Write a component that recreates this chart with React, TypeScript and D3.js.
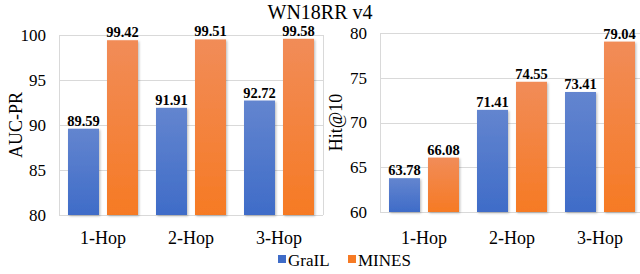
import { useEffect, useRef } from 'react';
import * as d3 from 'd3';

const TITLE = 'WN18RR v4';
const CATEGORIES = ['1-Hop', '2-Hop', '3-Hop'];
const SERIES = ['GraIL', 'MINES'];
const AUC_GRAIL = [89.59, 91.91, 92.72];
const AUC_MINES = [99.42, 99.51, 99.58];
const HIT_GRAIL = [63.78, 71.41, 73.41];
const HIT_MINES = [66.08, 74.55, 79.04];
const AUC_TICKS = [80, 85, 90, 95, 100];
const HIT_TICKS = [60, 65, 70, 75, 80];

const COLORS = {
  GraIL: ['#6385cf', '#3f6cc8'],
  MINES: ['#f18c58', '#f67a24'],
};

const FONT = '"Liberation Serif", "Times New Roman", serif';
const GRID = '#d9d9d9';

const PANELS = [
  { label: 'AUC-PR', left: 59, right: 323, top: 35, bottom: 215, domain: [80, 100], ticks: AUC_TICKS, values: [AUC_GRAIL, AUC_MINES], titleX: 16 },
  { label: 'Hit@10', left: 380, right: 644, top: 33, bottom: 212, domain: [60, 80], ticks: HIT_TICKS, values: [HIT_GRAIL, HIT_MINES], titleX: 336 },
];

function App() {
  const svgRef = useRef(null);

  useEffect(() => {
    const svg = d3.select(svgRef.current);
    svg.selectAll('*').remove();

    const defs = svg.append('defs');
    SERIES.forEach((s) => {
      const g = defs
        .append('linearGradient')
        .attr('id', `grad-${s}`)
        .attr('x1', 0)
        .attr('y1', 0)
        .attr('x2', 0)
        .attr('y2', 1);
      g.append('stop').attr('offset', '0%').attr('stop-color', COLORS[s][0]);
      g.append('stop').attr('offset', '100%').attr('stop-color', COLORS[s][1]);
    });
    const shadow = defs
      .append('filter')
      .attr('id', 'shadow')
      .attr('x', '-20%')
      .attr('y', '-20%')
      .attr('width', '150%')
      .attr('height', '150%');
    shadow
      .append('feDropShadow')
      .attr('dx', 1.2)
      .attr('dy', 1.2)
      .attr('stdDeviation', 1)
      .attr('flood-color', '#000')
      .attr('flood-opacity', 0.25);

    svg
      .append('text')
      .attr('x', 320)
      .attr('y', 19)
      .attr('text-anchor', 'middle')
      .attr('font-family', FONT)
      .attr('font-size', 20)
      .attr('fill', '#000')
      .text(TITLE);

    PANELS.forEach((p) => {
      const g = svg.append('g');
      const y = d3.scaleLinear().domain(p.domain).range([p.bottom, p.top]);
      const x0 = d3.scaleBand().domain(CATEGORIES).range([p.left, p.right]).padding(0);
      const x1 = d3
        .scaleBand()
        .domain(SERIES)
        .range([0, x0.bandwidth()])
        .paddingInner(8 / 39)
        .paddingOuter(9 / 39);

      g.selectAll('line.grid')
        .data(p.ticks)
        .enter()
        .append('line')
        .attr('class', 'grid')
        .attr('x1', p.left)
        .attr('x2', p.right)
        .attr('y1', (d) => Math.round(y(d)) + 0.5)
        .attr('y2', (d) => Math.round(y(d)) + 0.5)
        .attr('stroke', GRID)
        .attr('stroke-width', 1);

      [p.left, p.right].forEach((xx) => {
        g.append('line')
          .attr('x1', xx + 0.5)
          .attr('x2', xx + 0.5)
          .attr('y1', p.top)
          .attr('y2', p.bottom)
          .attr('stroke', GRID);
      });

      g.selectAll('text.tick')
        .data(p.ticks)
        .enter()
        .append('text')
        .attr('class', 'tick')
        .attr('x', p.left - 13)
        .attr('y', (d) => y(d))
        .attr('dy', '0.35em')
        .attr('text-anchor', 'end')
        .attr('font-family', FONT)
        .attr('font-size', 17)
        .attr('fill', '#000')
        .text((d) => d);

      g.append('text')
        .attr('transform', `translate(${p.titleX},${(p.top + p.bottom) / 2}) rotate(-90)`)
        .attr('text-anchor', 'middle')
        .attr('dy', '0.35em')
        .attr('font-family', FONT)
        .attr('font-size', 18)
        .attr('fill', '#000')
        .text(p.label);

      const rows = [];
      CATEGORIES.forEach((c, i) => {
        SERIES.forEach((s, j) => {
          rows.push({ c, s, v: p.values[j][i] });
        });
      });

      g.selectAll('rect.bar')
        .data(rows)
        .enter()
        .append('rect')
        .attr('class', 'bar')
        .attr('x', (d) => x0(d.c) + x1(d.s))
        .attr('width', x1.bandwidth())
        .attr('y', (d) => y(d.v))
        .attr('height', (d) => p.bottom - y(d.v))
        .attr('fill', (d) => `url(#grad-${d.s})`)
        .attr('filter', 'url(#shadow)');

      g.selectAll('text.val')
        .data(rows)
        .enter()
        .append('text')
        .attr('class', 'val')
        .attr('x', (d) => x0(d.c) + x1(d.s) + x1.bandwidth() / 2)
        .attr('y', (d) => y(d.v) - 3)
        .attr('text-anchor', 'middle')
        .attr('font-family', FONT)
        .attr('font-weight', 'bold')
        .attr('font-size', 14.5)
        .attr('fill', '#000')
        .text((d) => d.v.toFixed(2));

      g.selectAll('text.cat')
        .data(CATEGORIES)
        .enter()
        .append('text')
        .attr('class', 'cat')
        .attr('x', (d) => x0(d) + x0.bandwidth() / 2)
        .attr('y', 244)
        .attr('text-anchor', 'middle')
        .attr('font-family', FONT)
        .attr('font-size', 18)
        .attr('fill', '#000')
        .text((d) => d);
    });

    const legend = svg.append('g');
    const legendItems = [
      { s: 'GraIL', x: 278 },
      { s: 'MINES', x: 348 },
    ];
    legendItems.forEach((it) => {
      legend
        .append('rect')
        .attr('x', it.x)
        .attr('y', 255)
        .attr('width', 8)
        .attr('height', 8)
        .attr('fill', COLORS[it.s][1]);
      legend
        .append('text')
        .attr('x', it.x + 10)
        .attr('y', 266)
        .attr('font-family', FONT)
        .attr('font-size', 17)
        .attr('fill', '#000')
        .text(it.s);
    });
  }, []);

  return (
    <div style={{ position: 'fixed', left: 0, top: 0, width: 640, height: 274, background: '#fff' }}>
      <svg ref={svgRef} width={640} height={274} style={{ display: 'block' }} />
    </div>
  );
}

export default App;
